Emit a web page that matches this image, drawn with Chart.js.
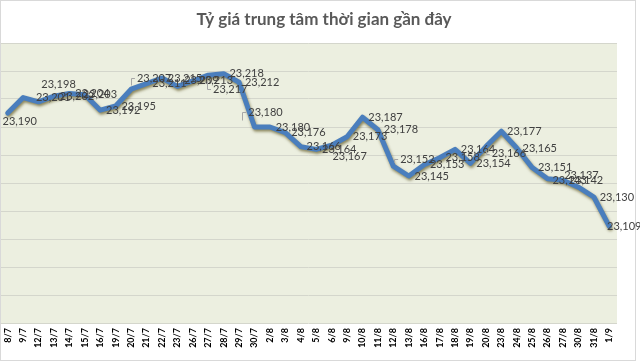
<!DOCTYPE html>
<html lang="vi">
<head>
  <meta charset="UTF-8" />
  <title>Tỷ giá trung tâm</title>
  <script src="https://cdn.jsdelivr.net/npm/chart.js"></script>
  <style>
    body { margin: 0; background: #fff; }
    .chart-container { width: 640px; height: 362px; }
  </style>
</head>
<body>
  <div class="chart-container"><canvas id="lineChart"></canvas></div>

  <script>
    const titulo = 'Tỷ giá trung tâm thời gian gần đây';

    const ngay = ['8/7', '9/7', '12/7', '13/7', '14/7', '15/7', '16/7', '19/7', '20/7', '21/7',
      '22/7', '23/7', '26/7', '27/7', '28/7', '29/7', '30/7', '2/8', '3/8', '4/8',
      '5/8', '6/8', '9/8', '10/8', '11/8', '12/8', '13/8', '16/8', '17/8', '18/8',
      '19/8', '20/8', '23/8', '24/8', '25/8', '26/8', '27/8', '30/8', '31/8', '1/9'];

    const tyGia = [23190, 23201, 23198, 23202, 23204, 23203, 23192, 23195, 23207, 23211,
      23215, 23209, 23213, 23217, 23218, 23212, 23180, 23180, 23176, 23166,
      23164, 23167, 23173, 23187, 23178, 23152, 23145, 23153, 23158, 23164,
      23154, 23166, 23177, 23165, 23151, 23143, 23142, 23137, 23130, 23109];

    const yMin = 23040;
    const yMax = 23240;
    const yPaso = 20;

    // desplazamiento de cada etiqueta (centro) respecto a su punto; por defecto a la derecha
    const etiquetaDesp = {
      0: [12, 8], 1: [30, 0], 2: [20, -17], 5: [15, 0], 8: [23, -11], 11: [24, -6],
      13: [22, 14], 16: [11, -15], 21: [18, 11], 25: [24, -7], 31: [23, 7],
      35: [22, 2], 37: [3, -12], 39: [15, 0]
    };
    // etiquetas movidas que llevan linea guia
    const conGuia = [8, 13, 16, 25, 31];

    const fmt = v => v.toLocaleString('en-US');

    const fondoPlugin = {
      id: 'fondo',
      beforeDraw(chart) {
        const { ctx, chartArea: a } = chart;
        ctx.save();
        ctx.fillStyle = '#ECEFE0';
        ctx.fillRect(a.left, a.top, a.right - a.left, a.bottom - a.top);
        ctx.restore();
      },
      beforeDatasetDraw(chart) {
        const ctx = chart.ctx;
        ctx.save();
        ctx.shadowColor = 'rgba(70,60,0,0.6)';
        ctx.shadowOffsetX = 1;
        ctx.shadowOffsetY = 2;
        ctx.shadowBlur = 3;
      },
      afterDatasetDraw(chart) {
        chart.ctx.restore();
      },
      afterDraw(chart) {
        const { ctx, chartArea: a } = chart;
        const meta = chart.getDatasetMeta(0);
        const xs = chart.scales.x;
        ctx.save();
        // borde exterior
        ctx.strokeStyle = '#D9D9D9';
        ctx.lineWidth = 1;
        ctx.strokeRect(0.5, 0.5, 635, 360);
        // titulo
        ctx.fillStyle = '#595959';
        ctx.font = 'bold 17px Lato, "Open Sans", sans-serif';
        ctx.textAlign = 'center';
        ctx.textBaseline = 'middle';
        ctx.fillText(titulo, 324, 20);
        // etiquetas del eje x, giradas
        ctx.fillStyle = '#000';
        ctx.font = 'bold 9px "Liberation Sans Narrow", Lato, sans-serif';
        ctx.textAlign = 'right';
        ngay.forEach((t, i) => {
          ctx.save();
          ctx.translate(xs.getPixelForTick(i), a.bottom + 5);
          ctx.rotate(-Math.PI / 2);
          ctx.fillText(t, 0, 0);
          ctx.restore();
        });
        // etiquetas de datos
        ctx.textAlign = 'center';
        ctx.font = '11px "Liberation Sans Narrow", Lato, sans-serif';
        meta.data.forEach((p, i) => {
          const d = etiquetaDesp[i] || [23, 0];
          const tx = fmt(tyGia[i]);
          const lx = p.x + d[0];
          const ly = p.y + d[1];
          if (conGuia.includes(i)) {
            const izq = lx - ctx.measureText(tx).width / 2 - 2;
            const gx = Math.min(izq - 4, Math.max(p.x + 3, izq - 8));
            const largo = Math.sign(-d[1]) * Math.min(Math.abs(d[1]) - 4, 8);
            ctx.strokeStyle = '#A6A6A6';
            ctx.lineWidth = 1;
            ctx.beginPath();
            ctx.moveTo(izq, Math.round(ly) + 0.5);
            ctx.lineTo(Math.round(gx) + 0.5, Math.round(ly) + 0.5);
            ctx.lineTo(Math.round(gx) + 0.5, Math.round(ly + largo) + 0.5);
            ctx.stroke();
          }
          ctx.fillStyle = '#404040';
          ctx.fillText(tx, lx, ly);
        });
        ctx.restore();
      }
    };

    new Chart(document.getElementById('lineChart'), {
      type: 'line',
      data: {
        labels: ngay,
        datasets: [{
          data: tyGia,
          borderColor: '#4A7EBD',
          borderWidth: 5,
          borderJoinStyle: 'round',
          borderCapStyle: 'round',
          pointRadius: 0,
          tension: 0,
          fill: false
        }]
      },
      options: {
        responsive: true,
        maintainAspectRatio: false,
        animation: false,
        layout: { padding: { left: 0, right: 23, top: 43, bottom: 0 } },
        plugins: { legend: { display: false }, tooltip: { enabled: false } },
        scales: {
          x: {
            offset: true,
            grid: { display: false, drawTicks: false },
            border: { display: false },
            ticks: { display: false, autoSkip: false },
            afterFit: s => { s.height = 39; }
          },
          y: {
            min: yMin, max: yMax,
            ticks: { display: false, stepSize: yPaso },
            grid: { color: '#D4D6CC', lineWidth: 1, drawTicks: false },
            border: { display: false },
            afterFit: s => { s.width = 0; }
          }
        }
      },
      plugins: [fondoPlugin]
    });
  </script>
</body>
</html>
